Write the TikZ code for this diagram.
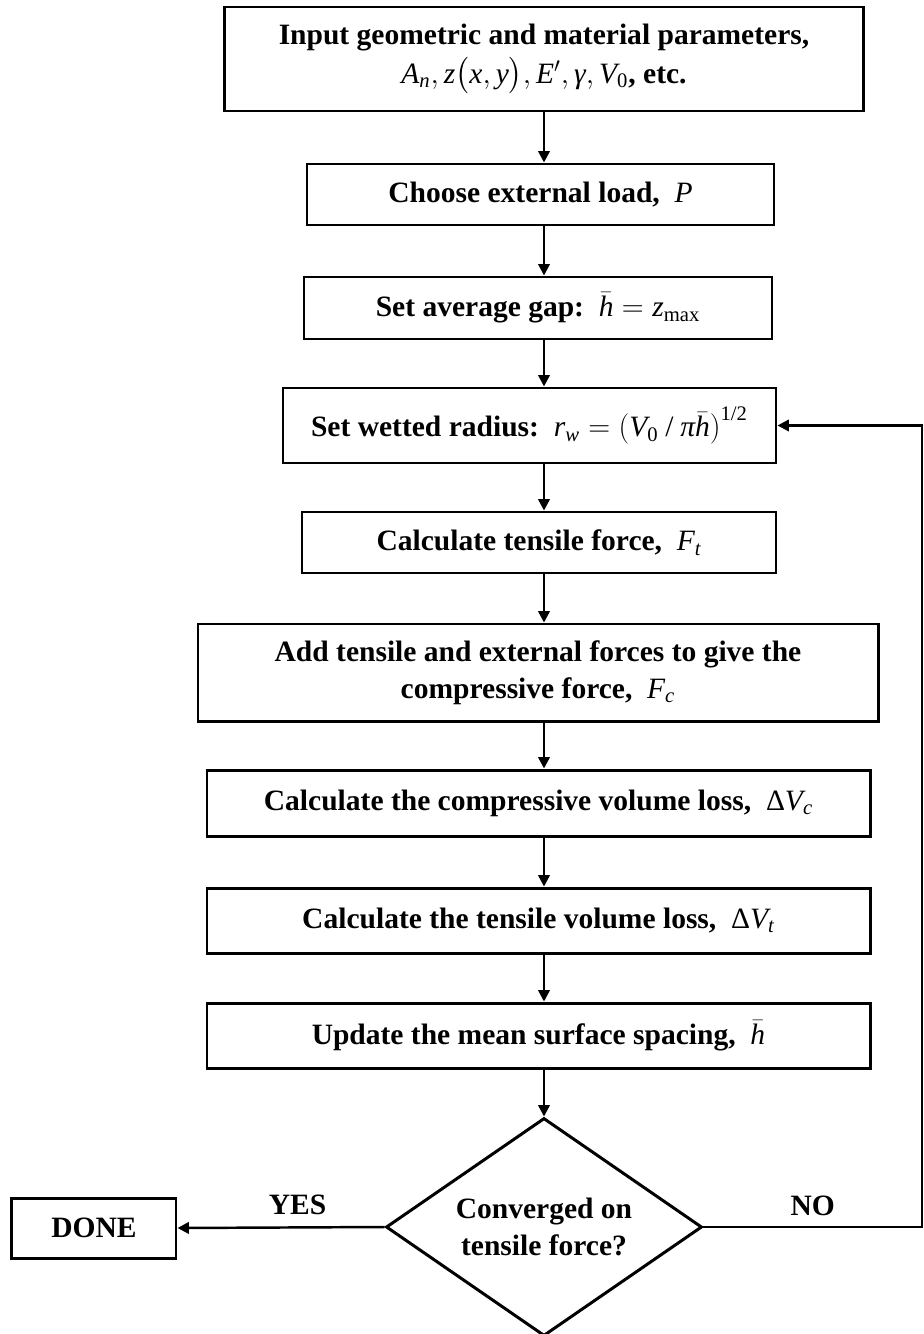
\documentclass[tikz,border=0pt]{standalone}
\usepackage{amsmath}
\usepackage{fontspec}
\setmainfont{Liberation Serif}
\usepackage{tikz}
\usetikzlibrary{
  arrows.meta,
  positioning,
  shapes.geometric,
  calc
}
\newcommand{\vi}[1]{\textnormal{\itshape #1}}
\newcommand{\vn}[1]{\textnormal{#1}}

\begin{document}
\begin{tikzpicture}[
  stepbox/.style={
    draw, line width=1.7pt, minimum height=1.22cm,
    font=\fontsize{16.8}{21}\selectfont\bfseries, align=center,
    inner sep=2pt
  },
  decision/.style={
    draw, diamond, line width=1.7pt, aspect=1.45,
    minimum width=6.32cm, minimum height=4.36cm, inner sep=0pt,
    font=\fontsize{16.8}{21}\selectfont\bfseries, align=center
  },
  arr/.style={-{Triangle[length=6.5pt,width=6.5pt]}, line width=1.4pt},
  lbl/.style={font=\fontsize{16.8}{20}\selectfont\bfseries}
]
\useasboundingbox (-10.88,0) rectangle (7.6,-26.68);

\node[stepbox, minimum width=12.78cm, minimum height=2.08cm] (inp) at (0,-1.18)
  {Input geometric and material parameters,\\[1pt]
   $\vi{A}_{\vi{n}}, \vi{z}\bigl(\vi{x},\vi{y}\bigr), \vi{E}', \vi{γ}, \vi{V}_{\vn{0}}$, etc.};
\node[stepbox, minimum width=9.34cm] (load) at (-0.07,-3.89)
  {Choose external load,\ \ $\vi{P}$};
\node[stepbox, minimum width=9.36cm, minimum height=1.24cm] (gap) at (-0.12,-6.16)
  {Set average gap:\ \ $\bar{\vi{h}} = \vi{z}_{\vn{max}}$};
\node[stepbox, minimum width=9.86cm, minimum height=1.5cm] (wet) at (-0.29,-8.51)
  {Set wetted radius:\ \ $\vi{r}_{\vi{w}} = \left(\vi{V}_{\vn{0}} \mathbin{\vn{/}} \vi{π}\bar{\vi{h}}\right)^{\vn{1/2}}$};
\node[stepbox, minimum width=9.48cm] (tens) at (-0.1,-10.85)
  {Calculate tensile force,\ \ $\vi{F}_{\vi{t}}$};
\node[stepbox, minimum width=13.6cm, minimum height=1.94cm] (add) at (-0.12,-13.45)
  {Add tensile and external forces to give the\\
   compressive force,\ \ $\vi{F}_{\vi{c}}$};
\node[stepbox, minimum width=13.26cm, minimum height=1.32cm] (cvol) at (-0.11,-16.06)
  {Calculate the compressive volume loss,\ \ $\vn{Δ}\vi{V}_{\vi{c}}$};
\node[stepbox, minimum width=13.26cm, minimum height=1.3cm] (tvol) at (-0.11,-18.41)
  {Calculate the tensile volume loss,\ \ $\vn{Δ}\vi{V}_{\vi{t}}$};
\node[stepbox, minimum width=13.26cm, minimum height=1.3cm] (upd) at (-0.11,-20.71)
  {Update the mean surface spacing,\ \ $\bar{\vi{h}}$};

\node[decision] (conv) at (0,-24.54) {Converged on\\tensile force?};
\node[stepbox, minimum width=3.28cm, minimum height=1.2cm] (done) at (-9.0,-24.56) {DONE};
\coordinate (back) at (7.56,-8.51);

% main chain
\draw[arr] (inp.south)  -- (inp.south |- load.north);
\draw[arr] (inp.south |- load.south) -- (inp.south |- gap.north);
\draw[arr] (inp.south |- gap.south)  -- (inp.south |- wet.north);
\draw[arr] (inp.south |- wet.south)  -- (inp.south |- tens.north);
\draw[arr] (inp.south |- tens.south) -- (inp.south |- add.north);
\draw[arr] (inp.south |- add.south)  -- (inp.south |- cvol.north);
\draw[arr] (inp.south |- cvol.south) -- (inp.south |- tvol.north);
\draw[arr] (inp.south |- tvol.south) -- (inp.south |- upd.north);
\draw[arr] (inp.south |- upd.south)  -- (conv.north);

% exits of the test
\draw[arr] (conv.west) -- (done.east)
  node[pos=0.42, above=3pt, lbl] {YES};
\draw[arr] (conv.east) -| (back) -- (wet.east);
\node[lbl, above=3pt] (no) at ($(conv.east)!0.5!(conv.east -| back)$) {NO};
\end{tikzpicture}
\end{document}
